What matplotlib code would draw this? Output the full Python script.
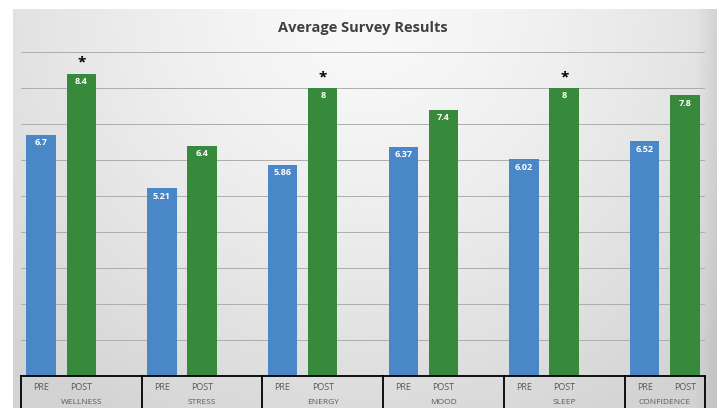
import numpy as np
import matplotlib
matplotlib.use('Agg')
import matplotlib.pyplot as plt

categories = ['WELLNESS', 'STRESS', 'ENERGY', 'MOOD', 'SLEEP', 'CONFIDENCE']
pre_vals = [6.7, 5.21, 5.86, 6.37, 6.02, 6.52]
post_vals = [8.4, 6.4, 8, 7.4, 8, 7.8]
pre_labels = ['6.7', '5.21', '5.86', '6.37', '6.02', '6.52']
post_labels = ['8.4', '6.4', '8', '7.4', '8', '7.8']
significant = [True, False, True, False, True, False]

BLUE = '#4a87c6'
GREEN = '#378a3b'
FONT = ['Open Sans', 'DejaVu Sans']


def main():
    W, H = 722, 408
    fig = plt.figure(figsize=(W / 100, H / 100), dpi=100)
    fig.patch.set_facecolor('white')

    # gradient background panel
    bg = fig.add_axes([13 / W, 0, 703 / W, 399 / H])
    bg.set_axis_off()
    gx, gy = np.meshgrid(np.linspace(0, 1, 400), np.linspace(0, 1, 300))
    r = np.sqrt(((gx - 0.5) / 0.72) ** 2 + ((gy - 0.0) / 1.2) ** 2)
    shade = 0.975 - 0.15 * np.clip(r, 0, 1) ** 1.4
    shade -= 0.06 * np.clip((gx - 0.97) / 0.03, 0, 1)
    bg.imshow(shade, cmap='gray', vmin=0, vmax=1, aspect='auto',
              extent=[0, 1, 1, 0], interpolation='bicubic')

    ax = fig.add_axes([21 / W, (H - 376) / H, 684 / W, 324 / H])
    ax.patch.set_alpha(0)
    ax.set_xlim(-0.5, 16.5)
    ax.set_ylim(0, 9)

    n = len(categories)
    x_pre = np.arange(n) * 3
    x_post = x_pre + 1
    bw = 0.73
    ax.bar(x_pre, pre_vals, width=bw, color=BLUE, zorder=3)
    ax.bar(x_post, post_vals, width=bw, color=GREEN, zorder=3)

    for yv in range(1, 10):
        ax.axhline(yv, color='#adadad', lw=0.7, zorder=1)

    for i in range(n):
        ax.text(x_pre[i], pre_vals[i] - 0.22, pre_labels[i], ha='center', va='center',
                color='white', fontsize=6.5, fontweight='bold', family=FONT, zorder=4)
        ax.text(x_post[i], post_vals[i] - 0.22, post_labels[i], ha='center', va='center',
                color='white', fontsize=6.5, fontweight='bold', family=FONT, zorder=4)
        if significant[i]:
            ax.text(x_post[i], post_vals[i] + 0.3, '*', ha='center', va='center',
                    color='black', fontsize=11, fontweight='bold', family=FONT, zorder=4)

    # multi-level category axis boxes
    ax.plot([-0.5, 16.5], [0, 0], color='black', lw=1.3, clip_on=False, zorder=5)
    for xb in [-0.5, 2.5, 5.5, 8.5, 11.5, 14.5, 16.5]:
        ax.plot([xb, xb], [0, -1.2], color='black', lw=1.3, clip_on=False, zorder=5)
    for i in range(n):
        ax.text(x_pre[i], -0.33, 'PRE', ha='center', va='center', fontsize=6.5,
                color='#595959', family=FONT, clip_on=False)
        ax.text(x_post[i], -0.33, 'POST', ha='center', va='center', fontsize=6.5,
                color='#595959', family=FONT, clip_on=False)
        xc = x_pre[i] + (1 if i < n - 1 else 0.5)
        ax.text(xc, -0.74, categories[i], ha='center', va='center', fontsize=6,
                color='#595959', family=FONT, clip_on=False)

    ax.set_xticks([])
    ax.set_yticks([])
    for s in ax.spines.values():
        s.set_visible(False)

    fig.text(363 / W, 1 - 28 / H, 'Average Survey Results', ha='center', va='center',
             fontsize=10.5, fontweight='bold', color='#404040', family=FONT)

    fig.savefig('out.png', dpi=100)
    plt.close(fig)


if __name__ == '__main__':
    main()
